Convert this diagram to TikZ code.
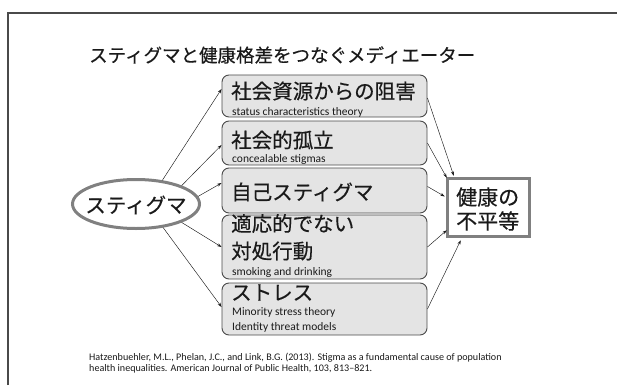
\documentclass[tikz,border=0pt]{standalone}
\usepackage{fontspec}
\setmainfont{Carlito}
\newfontfamily\jp[FakeBold=0.4]{Noto Sans CJK JP}
\usetikzlibrary{shapes.geometric,arrows.meta}
\definecolor{boxfill}{HTML}{E4E4E4}
\definecolor{boxline}{HTML}{4A4A4A}
\definecolor{thickgray}{HTML}{808080}
\definecolor{txt}{HTML}{1A1A1A}
\tikzset{
  mbox/.style={draw=boxline, line width=0.9pt, fill=boxfill, rounded corners=7pt,
    minimum width=205pt, inner sep=0pt},
  jt/.style={font=\jp\fontsize{20.5}{24}\selectfont, text=txt, inner sep=0pt, anchor=west},
  et/.style={font=\fontsize{11.5}{13}\selectfont, text=txt, inner sep=0pt, anchor=west},
  reft/.style={font=\fontsize{10.1}{11}\selectfont, text=txt, inner sep=0pt, anchor=base west},
  arr/.style={draw=txt, line width=0.45pt, -{Stealth[length=4.5pt,width=3pt]}},
}
\begin{document}
\begin{tikzpicture}[x=1pt,y=-1pt]
\useasboundingbox (0,0) rectangle (617,385);
% frame
\draw[draw=boxline, line width=1.4pt] (8,385) -- (8,13) -- (617,13);
% title
\node[font=\jp\fontsize{18.5}{22}\selectfont, text=txt, inner sep=0pt, anchor=west] (title) at (89,55) {スティグマと健康格差をつなぐメディエーター};
% mediator boxes
\node[mbox, minimum height=42pt] (b1) at (324.5,96) {};
\node[mbox, minimum height=44pt] (b2) at (324.5,143) {};
\node[mbox, minimum height=45pt] (b3) at (324.5,190.5) {};
\node[mbox, minimum height=64pt] (b4) at (324.5,247) {};
\node[mbox, minimum height=52pt] (b5) at (324.5,309) {};
% box texts
\node[jt] (t1) at (231,91) {社会資源からの阻害};
\node[et] (s1) at (232,112) {status characteristics theory};
\node[jt] (t2) at (231,140) {社会的孤立};
\node[et] (s2) at (232,159) {concealable stigmas};
\node[jt] (t3) at (231,192) {自己スティグマ};
\node[jt] (t4a) at (231,223.5) {適応的でない};
\node[jt] (t4b) at (231,251) {対処行動};
\node[et] (s4) at (232,272) {smoking and drinking};
\node[jt] (t5) at (231,292.5) {ストレス};
\node[et] (s5a) at (232,312) {Minority stress theory};
\node[et] (s5b) at (232,327) {Identity threat models};
% stigma ellipse
\node[ellipse, draw=thickgray, line width=3pt, minimum width=127pt, minimum height=49pt, inner sep=0pt] (st) at (136,204) {};
\node[jt, anchor=center] (stt) at (136,205) {スティグマ};
% health inequality box
\node[draw=thickgray, line width=3.5pt, fill=white, minimum width=82pt, minimum height=58pt, inner sep=0pt] (hb) at (488.5,207.5) {};
\node[jt, font=\jp\fontsize{21}{24}\selectfont] (h1) at (456,197) {健康の};
\node[jt, font=\jp\fontsize{21}{24}\selectfont] (h2) at (456,221) {不平等};
% arrows from stigma
\draw[arr] (st.42) -- ([yshift=7pt]b1.west);
\draw[arr] (st.22) -- ([yshift=-2pt]b2.west);
\draw[arr] (st.7) -- ([yshift=7.5pt]b3.west);
\draw[arr] (st.-22) -- (b4.west);
\draw[arr] (st.-41) -- ([yshift=2pt]b5.west);
% arrows to health box
\draw[arr] ([yshift=-2pt]b1.east) -- ([xshift=8pt,yshift=1pt]hb.north west);
\draw[arr] (b2.east) -- ([xshift=1pt,yshift=-1pt]hb.north west);
\draw[arr] ([yshift=4pt]b3.east) -- ([xshift=-1pt,yshift=11pt]hb.west);
\draw[arr] (b4.east) -- ([xshift=1pt,yshift=8pt]hb.south west);
\draw[arr] (b5.east) -- ([xshift=15pt,yshift=-2pt]hb.south west);
% footnote
\node[reft] (ref1) at (89,360) {Hatzenbuehler, M.L., Phelan, J.C., and Link, B.G. (2013). Stigma as a fundamental cause of population};
\node[reft] (ref2) at (89,371.7) {health inequalities. American Journal of Public Health, 103, 813–821.};
\end{tikzpicture}
\end{document}
